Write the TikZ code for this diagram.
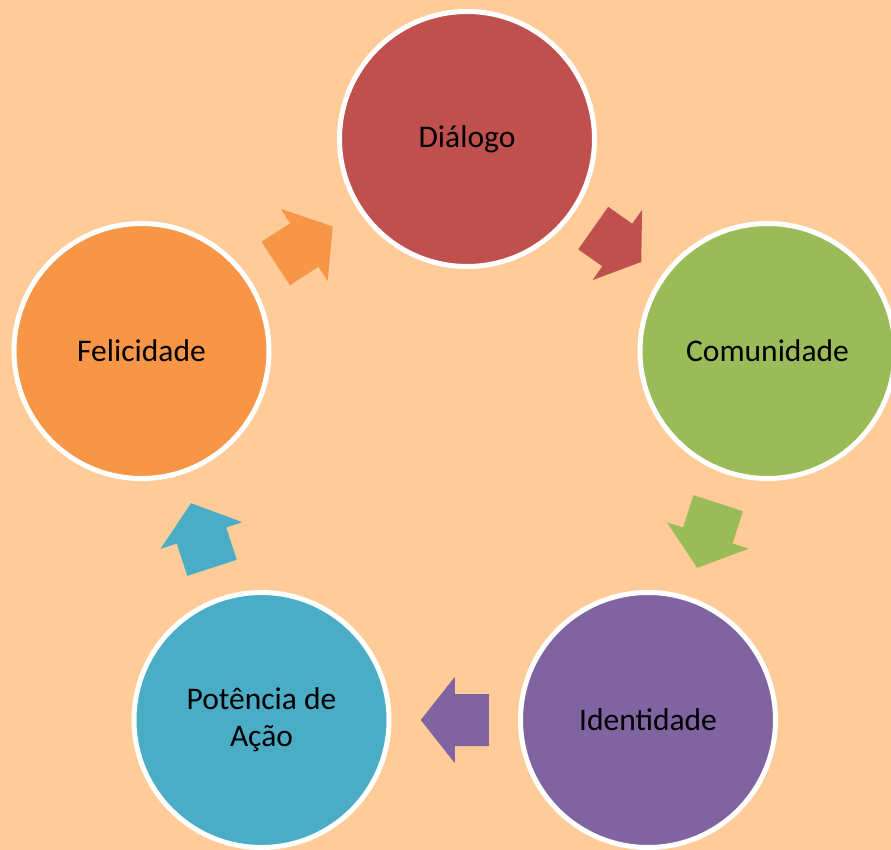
\documentclass[tikz,border=0pt]{standalone}
\usepackage{fontspec}
\setmainfont{Carlito}
\usetikzlibrary{calc}
\definecolor{bgpeach}{HTML}{FFCC99}
\definecolor{cred}{HTML}{C0504D}
\definecolor{cgreen}{HTML}{9BBB59}
\definecolor{cpurple}{HTML}{8064A2}
\definecolor{caqua}{HTML}{4BACC6}
\definecolor{corange}{HTML}{F79646}
\newcommand\cyclearrow[4]{%
  \coordinate (mid) at ($(#1.center)!0.5!(#2.center)$);
  \pgfmathanglebetweenpoints{\pgfpointanchor{#1}{center}}{\pgfpointanchor{#2}{center}}%
  \let\arrang\pgfmathresult
  \fill[#3, shift={(mid)}, rotate=\arrang] (-#4,26) -- (0,26) -- (0,43) -- (#4,0) -- (0,-43) -- (0,-26) -- (-#4,-26) -- cycle;
}
\tikzset{
  cyclenode/.style={circle, minimum size=255pt, inner sep=0pt, draw=white, line width=5pt,
    text=black, align=center, font=\fontsize{31.5}{37}\selectfont}
}
\begin{document}
\begin{tikzpicture}[x=1pt,y=1pt]
\useasboundingbox (0,0) rectangle (891,-850);
\clip (0,0) rectangle (891,-850);
\fill[bgpeach] (0,0) rectangle (891,-850);
\node[cyclenode, fill=cred] (dlg) at (467,-139) {Diálogo};
\node[cyclenode, fill=cgreen] (com) at (767.5,-351) {Comunidade};
\node[cyclenode, fill=cpurple] (ide) at (648,-720) {Identidade};
\node[cyclenode, fill=caqua] (pot) at (261.5,-720) {Potência de\\Ação};
\node[cyclenode, fill=corange] (fel) at (141.5,-351) {Felicidade};
\cyclearrow{dlg}{com}{cred}{29.4}
\cyclearrow{com}{ide}{cgreen}{34}
\cyclearrow{ide}{pot}{cpurple}{34}
\cyclearrow{pot}{fel}{caqua}{34}
\cyclearrow{fel}{dlg}{corange}{34}
\end{tikzpicture}
\end{document}
